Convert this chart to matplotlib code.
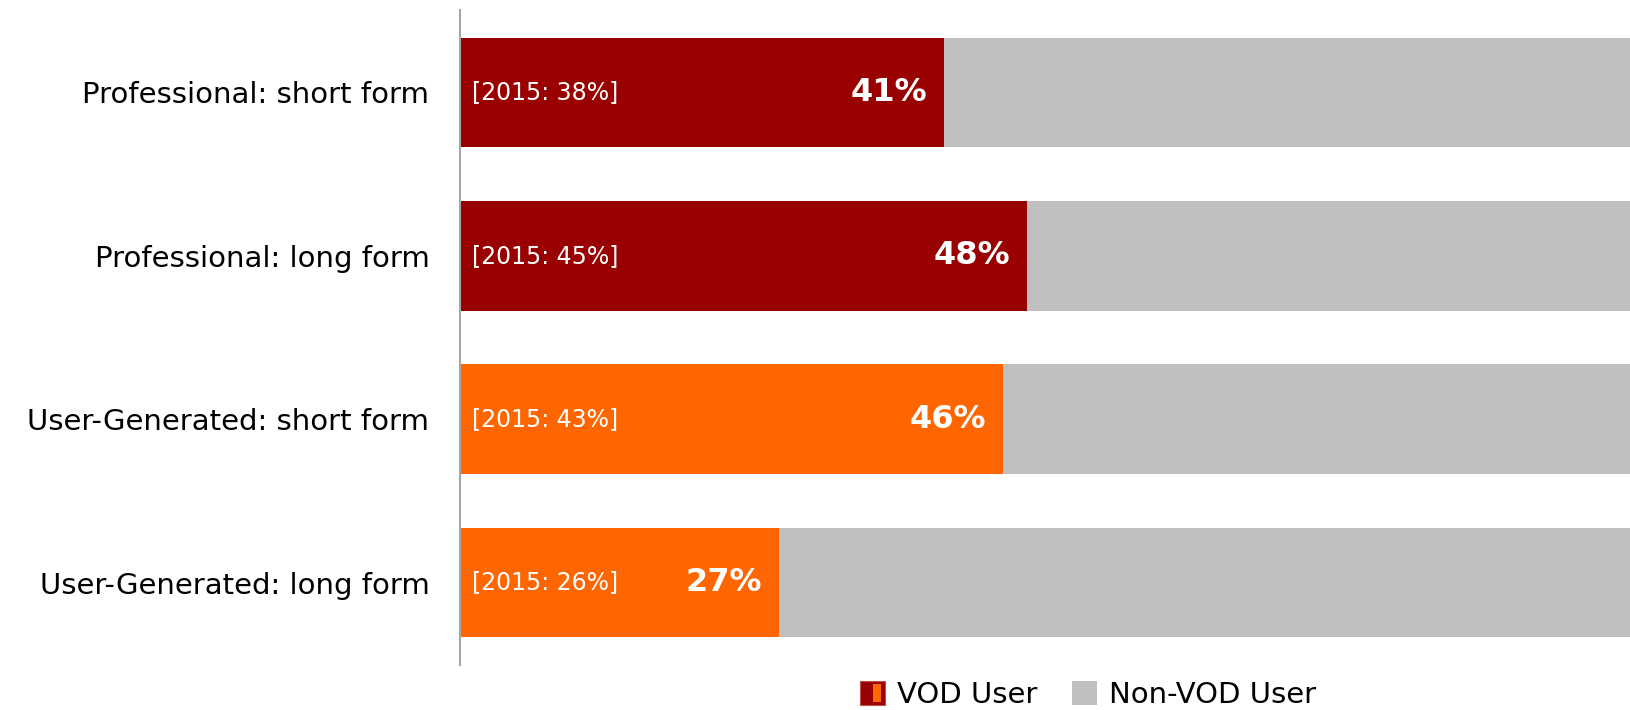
import numpy as np
import matplotlib
matplotlib.use("Agg")
import matplotlib.pyplot as plt
from matplotlib.patches import Rectangle
from matplotlib.legend_handler import HandlerBase


categories = ["Professional: short form", "Professional: long form",
              "User-Generated: short form", "User-Generated: long form"]
vod = [41, 48, 46, 27]
prev_2015 = [38, 45, 43, 26]
bar_colors = ["#990000", "#990000", "#FF6600", "#FF6600"]
grey = "#BFBFBF"


class SplitHandler(HandlerBase):
    # legend key: dark red square with an orange strip inside
    def create_artists(self, legend, orig_handle, xdescent, ydescent,
                       width, height, fontsize, trans):
        outer = Rectangle((-xdescent, -ydescent), width, height,
                          facecolor="#990000", edgecolor="#C0504D", lw=0.8, transform=trans)
        inner = Rectangle((-xdescent + width * 0.5, -ydescent + height * 0.12),
                          width * 0.35, height * 0.76,
                          facecolor="#FF6600", edgecolor="none", transform=trans)
        return [outer, inner]


fig = plt.figure(figsize=(16.31, 7.10), dpi=100)
ax = fig.add_axes([460 / 1631, 1 - 665 / 710, 1 - 460 / 1631, 655 / 710])

y = np.arange(len(categories))
ax.barh(y, vod, height=0.67, color=bar_colors)
ax.barh(y, [100 - v for v in vod], left=vod, height=0.67, color=grey)

for i in range(len(categories)):
    ax.text(1.0, y[i], "[2015: %d%%]" % prev_2015[i], color="white",
            fontsize=17, va="center", ha="left")
    ax.text(vod[i] - 1.4, y[i], "%d%%" % vod[i], color="white",
            fontsize=23, fontweight="bold", va="center", ha="right")

ax.set_xlim(0, 99.2)
ax.set_ylim(3.505, -0.505)
ax.set_yticks(y)
ax.set_yticklabels(categories, fontsize=21)
ax.tick_params(axis="y", length=0, pad=22)
ax.set_xticks([])
for s in ["top", "right", "bottom"]:
    ax.spines[s].set_visible(False)
ax.spines["left"].set_color("#A6A6A6")
ax.spines["left"].set_linewidth(1.5)

h1 = Rectangle((0, 0), 1, 1)
h2 = Rectangle((0, 0), 1, 1, facecolor=grey)
fig.legend([h1, h2], ["VOD User", "Non-VOD User"], loc="center",
           bbox_to_anchor=(1088 / 1631, 1 - 695 / 710), ncol=2, frameon=False,
           fontsize=21, handlelength=0.85, handleheight=0.85, handletextpad=0.4,
           columnspacing=1.2, handler_map={h1: SplitHandler()})

fig.savefig("out.png", dpi=100)
